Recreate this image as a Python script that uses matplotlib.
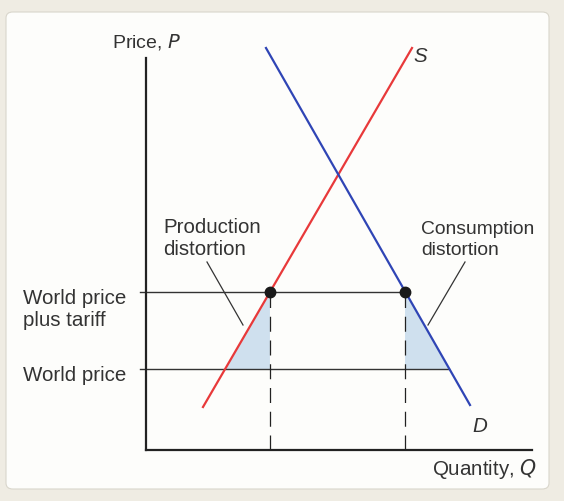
"""
Tariff costs: production and consumption distortions
"""

import numpy as np
import matplotlib
matplotlib.use("Agg")
import matplotlib.pyplot as plt
from matplotlib.patches import FancyBboxPatch

plt.rcParams['font.family'] = ['Liberation Sans', 'DejaVu Sans']

# Curve end points (quantity, price)
supply_q = [1.425, 6.65]
supply_p = [1.075, 10.05]
demand_q = [3.0, 8.1]
demand_p = [10.05, 1.125]

# Price levels
p_tariff = 3.95
p_world = 2.025

price_labels = ['World price\nplus tariff', 'World price']


def supply_at(p):
    return np.interp(p, supply_p, supply_q)


def demand_at(p):
    return np.interp(p, demand_p[::-1], demand_q[::-1])


q_s_tariff = supply_at(p_tariff)
q_s_world = supply_at(p_world)
q_d_tariff = demand_at(p_tariff)
q_d_world = demand_at(p_world)

W, H = 564, 501
fig = plt.figure(figsize=(W / 100, H / 100), dpi=100)
fig.patch.set_facecolor('#efece3')

# white panel with rounded corners
panel = FancyBboxPatch((6 / W, 12 / H), 543 / W, 477 / H,
                       boxstyle='round,pad=0,rounding_size=0.012',
                       transform=fig.transFigure, facecolor='#fdfdfb',
                       edgecolor='#d9d6cc', linewidth=0.8, zorder=-10)
fig.patches.append(panel)

ax = fig.add_axes([146 / W, (H - 450) / H, 400 / W, 420 / H])
ax.set_xlim(0, 10)
ax.set_ylim(0, 10.5)
ax.patch.set_alpha(0)
ax.set_xticks([])
ax.set_yticks([])
for side in ['top', 'right']:
    ax.spines[side].set_visible(False)
for side in ['left', 'bottom']:
    ax.spines[side].set_linewidth(1.6)
    ax.spines[side].set_color('#222222')
ax.spines['left'].set_bounds(0, 9.8)
ax.spines['bottom'].set_bounds(0, 9.65)

text_color = '#333333'
fs = 14.8
ls = 1.22

# shaded distortion triangles
shade = '#cfe0ee'
ax.fill([q_s_world, q_s_tariff, q_s_tariff], [p_world, p_tariff, p_world],
        color=shade, zorder=1, lw=0)
ax.fill([q_d_tariff, q_d_tariff, q_d_world], [p_tariff, p_world, p_world],
        color=shade, zorder=1, lw=0)

# price lines
ax.plot([-0.15, q_d_tariff], [p_tariff, p_tariff], color='#333333', lw=1.0,
        clip_on=False, zorder=2)
ax.plot([-0.15, q_d_world], [p_world, p_world], color='#333333', lw=1.0,
        clip_on=False, zorder=2)

# dashed drop lines
for q in [q_s_tariff, q_d_tariff]:
    ax.plot([q, q], [0, p_tariff], color='#222222', lw=0.9,
            dashes=(12, 7), zorder=2)

# supply and demand
ax.plot(supply_q, supply_p, color='#e8393a', lw=1.6, clip_on=False, zorder=3)
ax.plot(demand_q, demand_p, color='#2f45b5', lw=1.6, clip_on=False, zorder=3)

# points
ax.plot([q_s_tariff, q_d_tariff], [p_tariff, p_tariff], 'o', color='#1a1a1a',
        ms=7.5, zorder=4, clip_on=False)

# labels
ax.text(0, 10.05, 'Price, $\\mathit{P}$', ha='center', va='baseline',
        fontsize=14, color=text_color)
ax.text(9.775, -0.625, 'Quantity, $\\mathit{Q}$', ha='right', va='baseline',
        fontsize=fs, color=text_color, clip_on=False)
ax.text(6.675, 9.7, 'S', style='italic', ha='left', va='baseline',
        fontsize=fs, color=text_color)
ax.text(8.35, 0.45, 'D', style='italic', ha='center', va='baseline',
        fontsize=fs, color=text_color)

ax.text(-3.08, 4.025, price_labels[0], ha='left', va='top', fontsize=fs,
        color=text_color, linespacing=ls)
ax.text(-3.08, 1.725, price_labels[1], ha='left', va='baseline', fontsize=fs,
        color=text_color)

ax.text(0.425, 5.8, 'Production\ndistortion', ha='left', va='top',
        fontsize=fs, color=text_color, linespacing=ls)
ax.text(6.875, 5.725, 'Consumption\ndistortion', ha='left', va='top',
        fontsize=13.9, color=text_color, linespacing=1.28)

# leader lines
ax.plot([1.525, 2.425], [4.7, 3.125], color='#333333', lw=0.9, zorder=2)
ax.plot([7.975, 7.05], [4.7, 3.125], color='#333333', lw=0.9, zorder=2)

plt.savefig('out.png', dpi=100, facecolor=fig.get_facecolor())
